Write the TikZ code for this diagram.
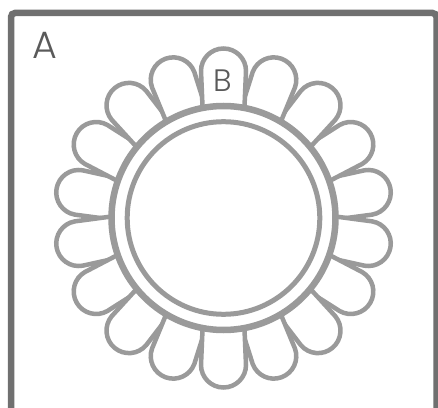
\documentclass[tikz,border=0pt]{standalone}
\usepackage{fontspec}
\usepackage{xcolor}
\newfontfamily\labelfont{Poppins Light}
\definecolor{PetalGray}{HTML}{9A9A9A}
\definecolor{FrameGray}{HTML}{707070}
\definecolor{LetterInk}{HTML}{5A5A5A}

\begin{document}
\begin{tikzpicture}[x=1pt,y=1pt,every node/.style={font=\labelfont,text=LetterInk,inner sep=0pt},frame/.style={draw=FrameGray,line width=6.5pt,rounded corners=4pt},petal/.style={draw=PetalGray,fill=white,line width=4.5pt},ring/.style={draw=PetalGray,fill=white}]
\useasboundingbox (0,0) rectangle (438,407); \clip (0,0) rectangle (438,407);
\fill[white] (0,0) rectangle (438,407);

\draw[frame] (11,394) rectangle (436.5,-14);
\node[font=\labelfont\fontsize{38}{38}\selectfont] (labelA) at (44.5,361.5) {A};

\begin{scope}[shift={(223.5,189)}]
\foreach \a in {10,-10,170,190,30,-30,150,210,50,-50,130,230,70,-70,110,250,90,270}
  \draw[petal,rotate=\a] (100,-20.5)--(147,-22.5) arc[start angle=-90,end angle=90,radius=22.5]--(100,20.5);
\draw[ring,line width=6.5pt] (0,0) circle[radius=112]; \draw[ring,line width=5pt] (0,0) circle[radius=96.3];
\end{scope}

\node[font=\labelfont\fontsize{31}{31}\selectfont] (labelB) at (223,326.5) {B};

\end{tikzpicture}
\end{document}
